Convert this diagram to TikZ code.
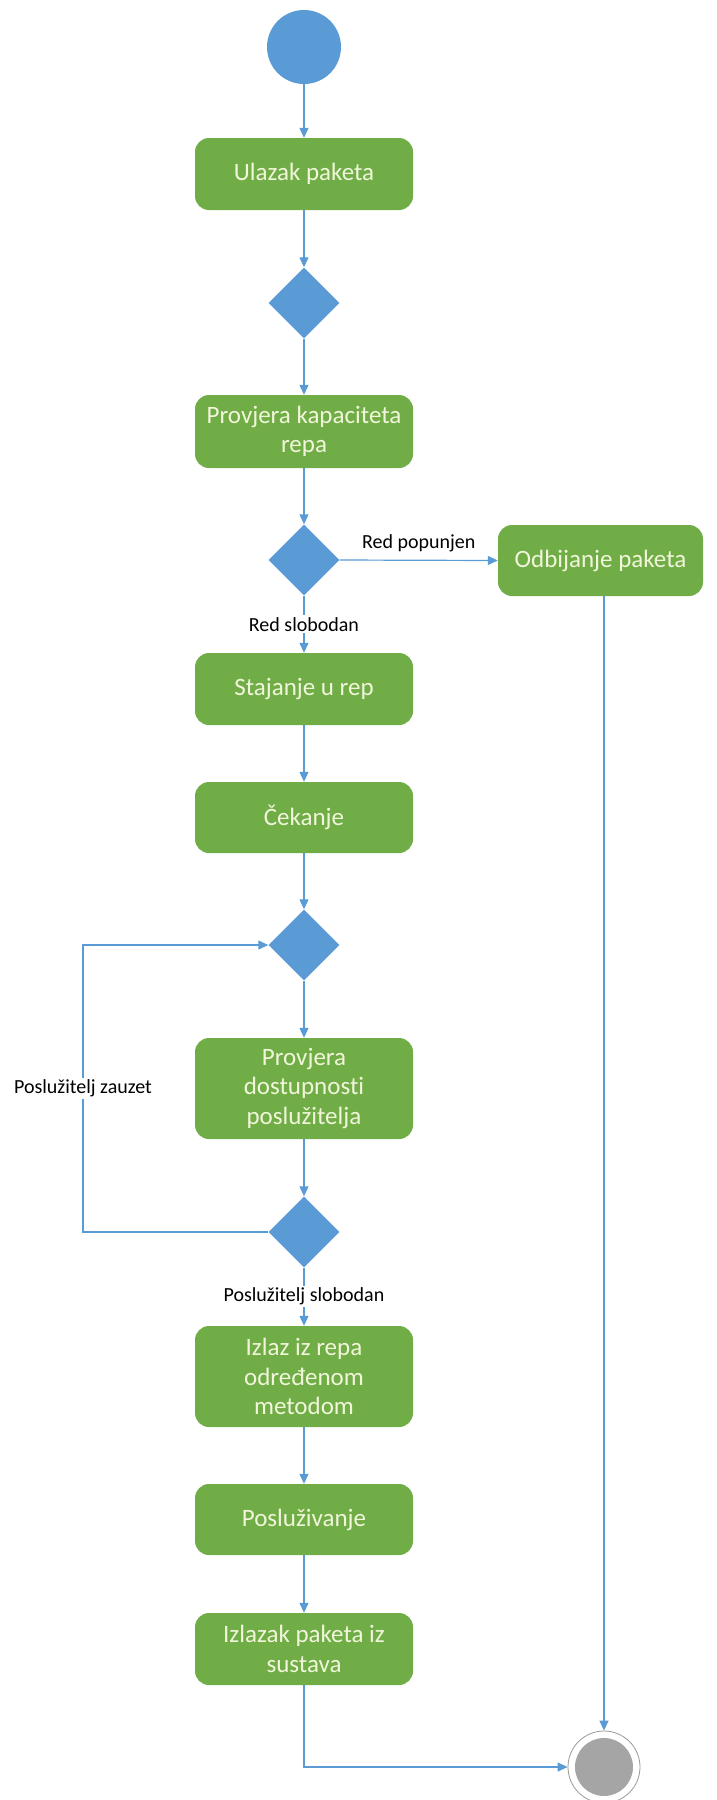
\documentclass[tikz,border=0pt]{standalone}
\usepackage{fontspec}
\setmainfont{Carlito}[Ligatures=NoCommon]
\usetikzlibrary{shapes.geometric,arrows.meta}
\definecolor{boxgreen}{HTML}{70AD47}
\definecolor{flowblue}{HTML}{5B9BD5}
\definecolor{boxtext}{HTML}{F1F6DA}
\definecolor{endgray}{HTML}{A5A5A5}
\definecolor{ringgray}{HTML}{9A9A9A}
\begin{document}
\begin{tikzpicture}[x=1pt,y=-1pt,
  actbox/.style={fill=boxgreen, rounded corners=14pt, minimum width=218pt,
    text=boxtext, font=\fontsize{25}{29.5}\selectfont, align=center, inner sep=0pt},
  decis/.style={diamond, aspect=1, fill=flowblue, minimum width=71pt,
    minimum height=71pt, inner sep=0pt},
  flow/.style={draw=flowblue, line width=1.2pt, -{Triangle[length=10pt,width=9pt]}},
  lbl/.style={font=\fontsize{20}{24}\selectfont, text=black, inner sep=2pt},
  lblw/.style={lbl, fill=white}]
\useasboundingbox (0,0) rectangle (716,1800);
% nodes
\node[circle, fill=flowblue, minimum size=74pt, inner sep=0pt] (start) at (304,47) {};
\node[actbox, minimum height=72pt] (ulaz) at (304,174) {Ulazak paketa};
\node[decis] (d1) at (304,303) {};
\node[actbox, minimum height=73pt] (kap) at (304,431.5) {Provjera kapaciteta\\repa};
\node[decis] (d2) at (304,560) {};
\node[actbox, minimum width=205pt, minimum height=71pt] (odb) at (600.5,560.5) {Odbijanje paketa};
\node[actbox, minimum height=72pt] (staj) at (304,689) {Stajanje u rep};
\node[actbox, minimum height=71pt] (cek) at (304,817.5) {Čekanje};
\node[decis] (d3) at (304,945) {};
\node[actbox, minimum height=101pt] (dost) at (304,1088.5) {Provjera\\dostupnosti\\poslužitelja};
\node[decis] (d4) at (304,1232) {};
\node[actbox, minimum height=101pt] (izl) at (304,1376.5) {Izlaz iz repa\\određenom\\metodom};
\node[actbox, minimum height=71pt] (posl) at (304,1519.5) {Posluživanje};
\node[actbox, minimum height=72pt] (izk) at (304,1649) {Izlazak paketa iz\\sustava};
\node[circle, draw=ringgray, line width=0.8pt, fill=white, minimum size=72pt, inner sep=0pt] (end) at (604,1767) {};
\node[circle, fill=endgray, minimum size=58pt, inner sep=0pt] (endin) at (end.center) {};
\coordinate (loopb) at (83,1232);
\coordinate (loopt) at (83,945);
\coordinate (corner) at (304,1767);
% connectors
\draw[flow] (start.south) -- (ulaz.north);
\draw[flow] (ulaz.south) -- (d1.north);
\draw[flow] (d1.south) -- (kap.north);
\draw[flow] (kap.south) -- (d2.north);
\draw[flow] (d2.east) -- node[lbl, above, yshift=6pt] {Red popunjen} (odb.west);
\draw[flow] (d2.south) -- node[lblw, pos=0.5] {Red slobodan} (staj.north);
\draw[flow] (staj.south) -- (cek.north);
\draw[flow] (cek.south) -- (d3.north);
\draw[flow] (d3.south) -- (dost.north);
\draw[flow] (dost.south) -- (d4.north);
\draw[flow] (d4.west) -- (loopb) -- node[lblw, pos=0.5] {Poslužitelj zauzet} (loopt) -- (d3.west);
\draw[flow] (d4.south) -- node[lblw, pos=0.5] {Poslužitelj slobodan} (izl.north);
\draw[flow] (izl.south) -- (posl.north);
\draw[flow] (posl.south) -- (izk.north);
\draw[flow] (izk.south) -- (corner) -- (end.west);
\draw[flow] (end.north |- odb.south) -- (end.north);
\end{tikzpicture}
\end{document}
